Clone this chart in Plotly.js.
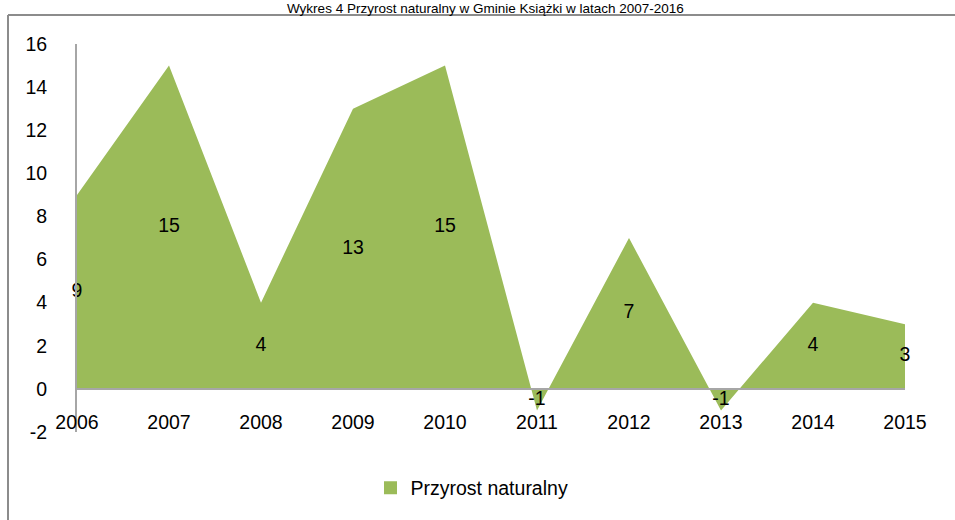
<!DOCTYPE html>
<html><head><meta charset="utf-8">
<script src="https://cdn.plot.ly/plotly-3.0.1.min.js"></script>
<style>html,body{margin:0;padding:0;background:#fff}#c{width:955px;height:520px}</style>
</head><body><div id="c"></div>
<script>
const years = ['2006','2007','2008','2009','2010','2011','2012','2013','2014','2015'];
const values = [9, 15, 4, 13, 15, -1, 7, -1, 4, 3];
const seriesName = 'Przyrost naturalny';
const titleText = 'Wykres 4 Przyrost naturalny w Gminie Książki w latach 2007-2016';
const yTickVals = [-2, 0, 2, 4, 6, 8, 10, 12, 14, 16];
const yTickText = ['-2', '0', '2', '4', '6', '8', '10', '12', '14', '16'];

const F = 'Liberation Sans, Arial, sans-serif';
const green = '#9bbb59';
const FS = 19.5;

const area = {
  x: years, y: values, type: 'scatter', mode: 'lines', fill: 'tozeroy',
  fillcolor: green, line: {width: 0, color: green}, name: seriesName,
  hoverinfo: 'skip', showlegend: false
};
const legendItem = {
  x: [null], y: [null], type: 'scatter', mode: 'markers', name: seriesName,
  marker: {symbol: 'square', size: 13, color: green}, showlegend: true, hoverinfo: 'skip'
};
const labels = {
  x: years, y: values.map(v => v / 2), type: 'scatter', mode: 'text',
  text: values.map(String), textposition: 'middle center',
  textfont: {family: F, size: FS, color: '#000'}, showlegend: false, hoverinfo: 'skip',
  cliponaxis: false
};

const px = p => (p - 77) / 828;
const py = p => (432 - p) / 388;

const layout = {
  width: 955, height: 520,
  margin: {l: 77, r: 50, t: 44, b: 88},
  paper_bgcolor: '#fff', plot_bgcolor: 'rgba(0,0,0,0)',
  font: {family: F, size: FS, color: '#000'},
  showlegend: true,
  legend: {orientation: 'h', x: px(472), xanchor: 'center', y: py(488), yanchor: 'middle',
           itemwidth: 30, font: {family: F, size: FS, color: '#000'}, bgcolor: 'rgba(0,0,0,0)'},
  xaxis: {type: 'category', range: [0, 9], showgrid: false, zeroline: false,
          anchor: 'free', position: py(389), showline: true, linecolor: '#a6a6a6', linewidth: 2,
          ticks: '', ticklabelstandoff: 16, tickfont: {family: F, size: FS, color: '#000'}, fixedrange: true},
  yaxis: {range: [-2, 16], tickvals: yTickVals, ticktext: yTickText, showgrid: false, zeroline: false,
          showline: true, linecolor: '#a6a6a6', linewidth: 2, ticks: '',
          ticklabelstandoff: 24, tickfont: {family: F, size: FS, color: '#000'}, fixedrange: true},
  annotations: [{text: titleText, xref: 'paper', yref: 'paper', x: px(485), y: py(8.5),
                 xanchor: 'center', yanchor: 'middle', showarrow: false, borderpad: 0,
                 font: {family: F, size: 13.5, color: '#000'}}],
  shapes: [
    {type: 'line', xref: 'paper', yref: 'paper', x0: px(8), x1: px(960), y0: py(15), y1: py(15),
     line: {color: '#8c8c8c', width: 2}},
    {type: 'line', xref: 'paper', yref: 'paper', x0: px(8), x1: px(8), y0: py(15), y1: py(525),
     line: {color: '#8c8c8c', width: 2}}
  ]
};
Plotly.newPlot('c', [area, legendItem, labels], layout, {displayModeBar: false, staticPlot: true});
</script></body></html>
